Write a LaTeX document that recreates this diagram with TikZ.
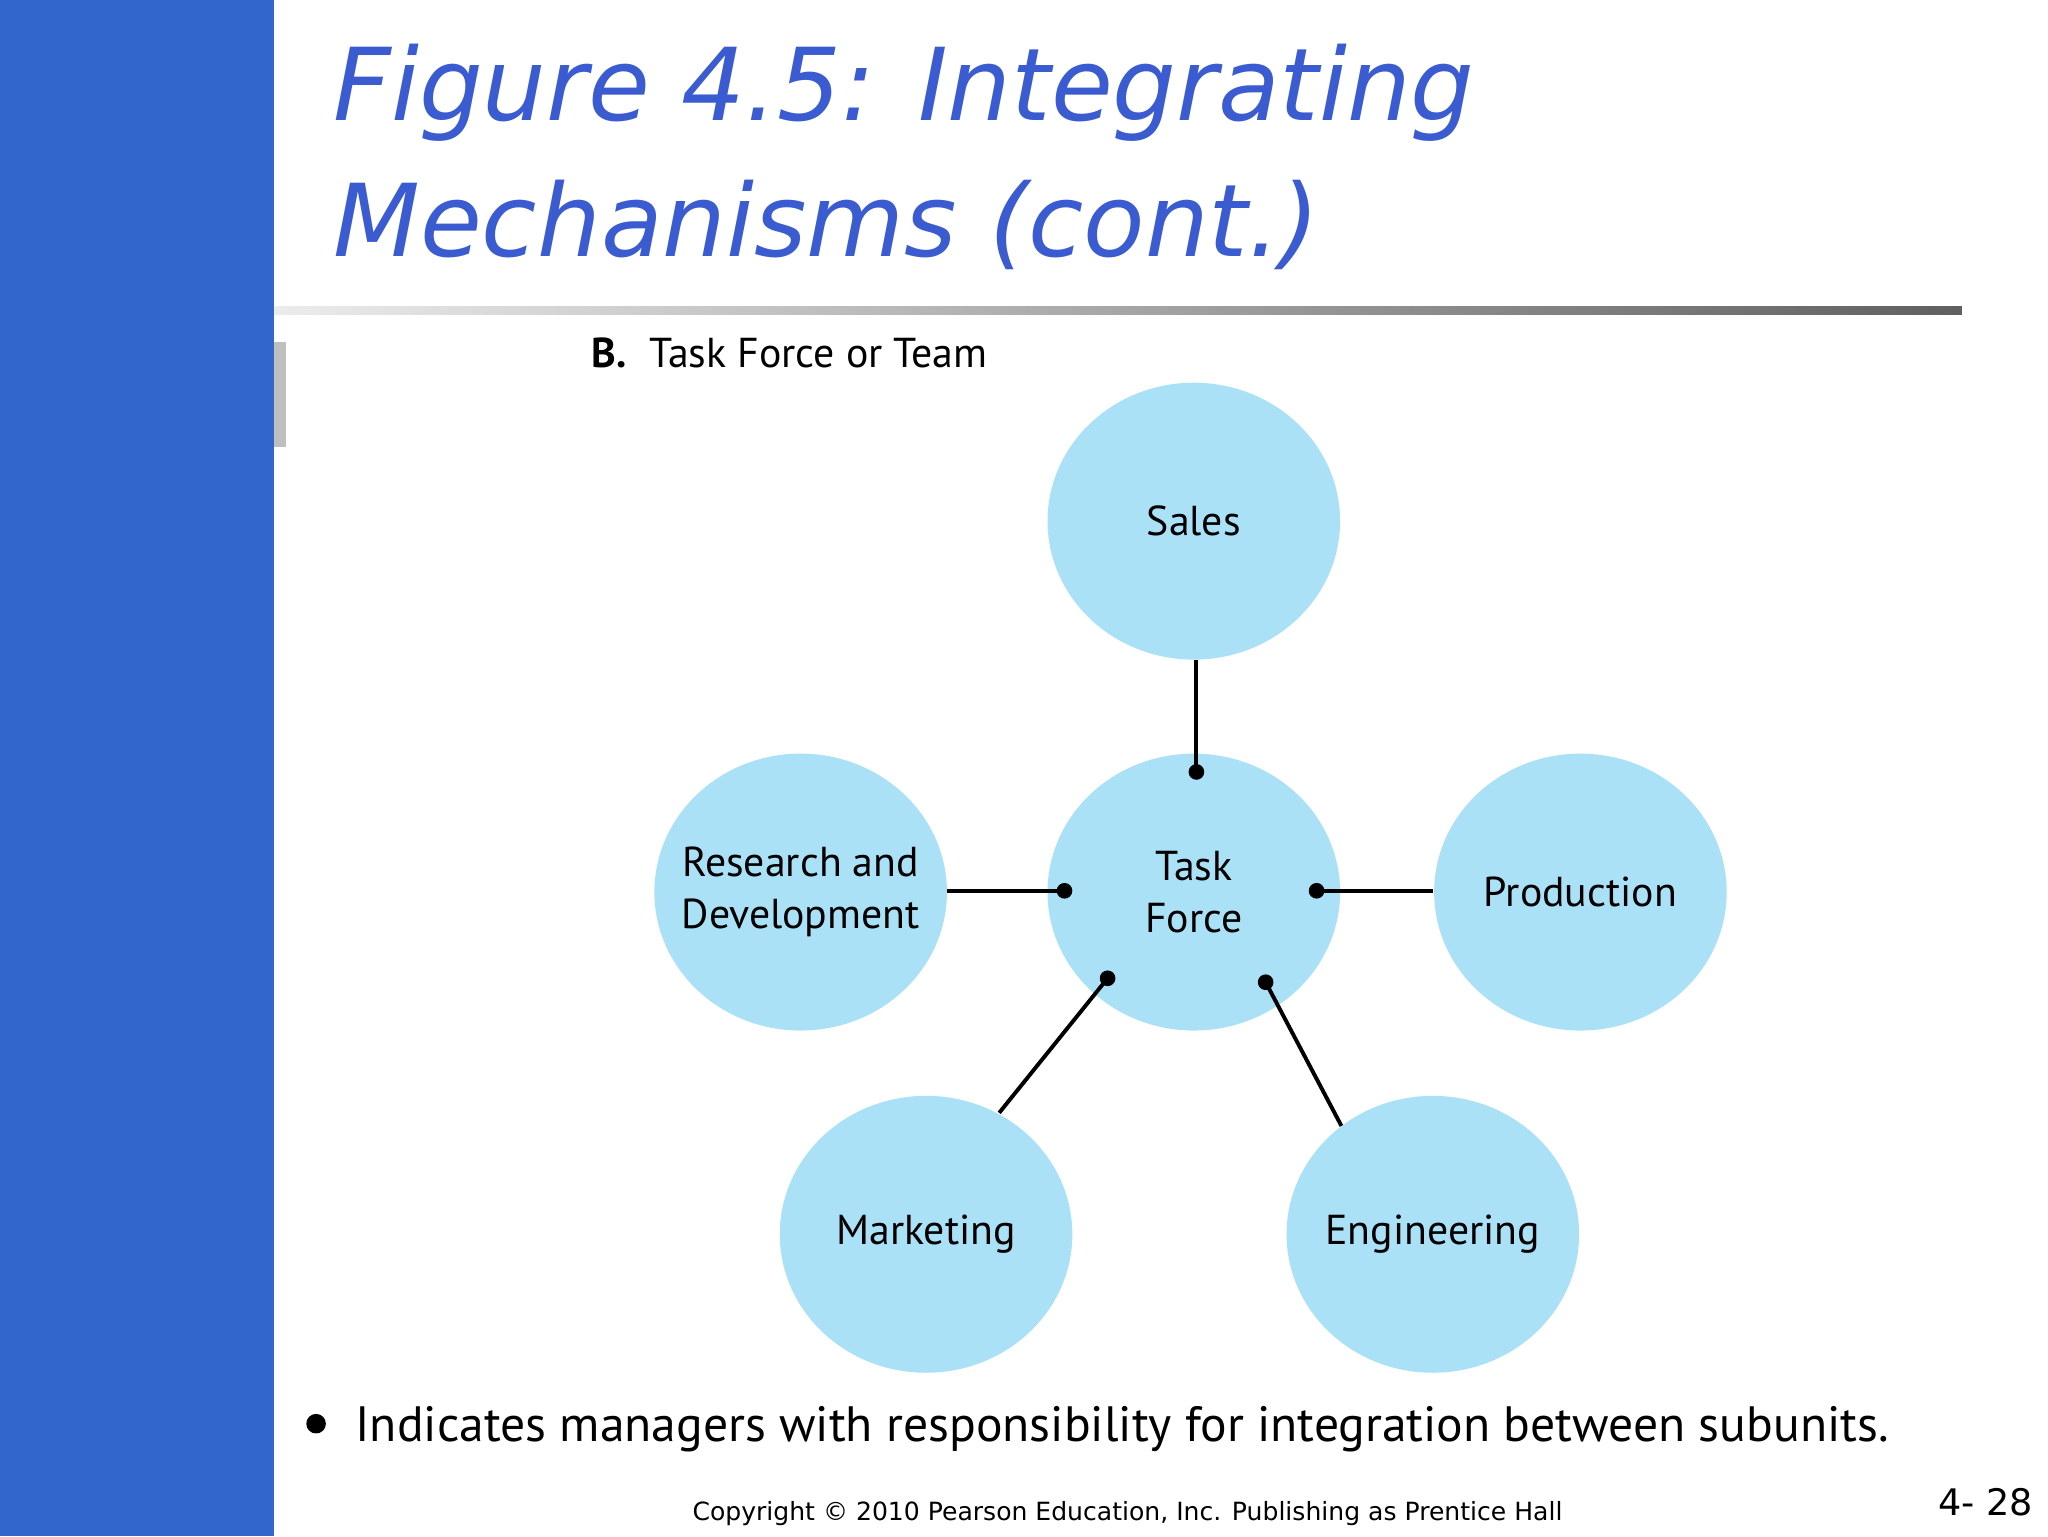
\documentclass[tikz,border=0pt]{standalone}
\usepackage{fontspec}
\setmainfont{PT Sans}
\newfontfamily\titlefont{DejaVu Sans}
\usetikzlibrary{shapes.geometric}
\begin{document}
\begin{tikzpicture}[x=1pt,y=-1pt,
  circ/.style={ellipse,fill=cblue,minimum width=224pt,minimum height=212pt,inner sep=0pt},
  lab/.style={label={[align=center,font=\fontsize{32}{40}\selectfont]center:#1}},
  con/.style={line width=3pt},
  dotm/.style={circle,fill=black,inner sep=0pt,minimum size=12pt}]
\definecolor{cblue}{HTML}{ABE1F7}
\definecolor{barblue}{HTML}{3366CC}
\definecolor{ttl}{HTML}{3B5BD0}
\useasboundingbox (0,0) rectangle (1568,1176);
\fill[white] (0,0) rectangle (1568,1176);
\fill[barblue] (0,0) rectangle (210,1176);
\fill[gray!50] (210,262) rectangle (219,342);
\shade[left color=gray!15,right color=gray!75!black] (210,235) rectangle (1502,241);
\node[anchor=base west,inner sep=0pt,text=ttl,font=\titlefont\itshape\fontsize{77}{100}\selectfont] (title) at (255,92) {Figure 4.5: Integrating};
\node[anchor=base west,inner sep=0pt,text=ttl,font=\titlefont\itshape\fontsize{77}{100}\selectfont] (title2) at (255,196) {Mechanisms (cont.)};
\node[anchor=base west,inner sep=0pt,font=\fontsize{32}{36}\selectfont] (sub) at (453,281) {\textbf{B.}\ \ Task Force or Team};
\node[circ,lab={Sales}] (s) at (914,399) {};
\node[circ,lab={Task\\Force}] (t) at (914,683) {};
\node[circ,lab={Research and\\Development}] (r) at (613,683) {};
\node[circ,lab={Production}] (p) at (1210,683) {};
\node[circ,lab={Marketing}] (m) at (709,945) {};
\node[circ,lab={Engineering}] (e) at (1097,945) {};
\node[dotm] (ds) at (916,591) {};
\node[dotm] (dr) at (815,682) {};
\node[dotm] (dp) at (1008,682) {};
\node[dotm] (dm) at (848,749) {};
\node[dotm] (de) at (969,752) {};
\coordinate (cs) at (916,505);
\coordinate (cr) at (725,682);
\coordinate (cp) at (1097,682);
\coordinate (cm) at (765,852);
\coordinate (ce) at (1027,862);
\draw[con] (cs) -- (ds.center);
\draw[con] (cr) -- (dr.center);
\draw[con] (cp) -- (dp.center);
\draw[con] (cm) -- (dm.center);
\draw[con] (ce) -- (de.center);
\node[circle,fill=black,inner sep=0pt,minimum size=15pt] (bul) at (242,1090) {};
\node[anchor=base west,inner sep=0pt,font=\fontsize{38}{46}\selectfont] (note) at (272,1104) {Indicates managers with responsibility for integration between subunits.};
\node[anchor=base west,inner sep=0pt,font=\titlefont\fontsize{19.2}{24}\selectfont] (copy) at (530,1164) {Copyright \textcopyright{} 2010 Pearson Education, Inc. Publishing as Prentice Hall};
\node[anchor=base west,inner sep=0pt,font=\titlefont\fontsize{28}{32}\selectfont] (pg) at (1484,1160) {4- 28};
\end{tikzpicture}
\end{document}
